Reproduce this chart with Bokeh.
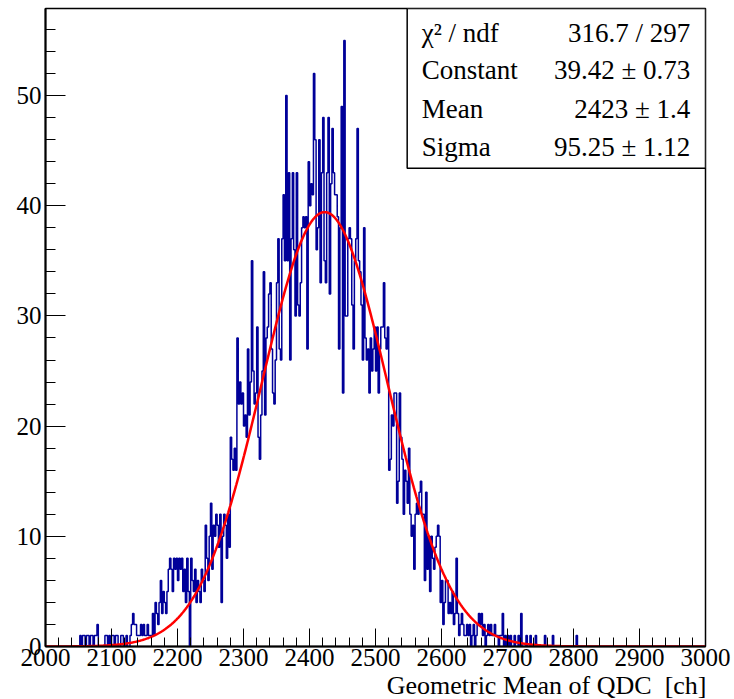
import numpy as np
from bokeh.plotting import figure
from bokeh.models import Range1d, FixedTicker, Label, BoxAnnotation, Title
from bokeh.embed import file_html
from bokeh.resources import INLINE

# ---------------- data ----------------
bin_low = 2000
bin_width = 2
counts = [
    0, 0, 0, 0, 0, 0, 0, 0, 0, 0,        # 2000
    0, 0, 0, 0, 0, 0, 0, 0, 0, 0,        # 2020
    0, 0, 0, 0, 0, 0, 1, 0, 1, 1,        # 2040
    0, 1, 1, 0, 1, 1, 0, 1, 1, 2,        # 2060
    0, 0, 0, 0, 0, 1, 1, 0, 1, 0,        # 2080
    1, 1, 0, 1, 1, 0, 0, 1, 1, 0,        # 2100
    0, 1, 0, 0, 1, 2, 3, 2, 2, 1,        # 2120
    1, 1, 2, 1, 2, 1, 1, 2, 1, 1,        # 2140
    1, 3, 1, 4, 3, 2, 4, 6, 3, 5,        # 2160
    4, 3, 5, 7, 8, 7, 5, 8, 7, 8,        # 2180
    6, 8, 7, 8, 5, 7, 4, 8, 5, 0,        # 2200
    8, 6, 5, 7, 4, 6, 5, 4, 7, 6,        # 2220
    5, 11, 8, 6, 10, 13, 7, 11, 10, 12,  # 2240
    11, 9, 12, 4, 10, 12, 11, 8, 12, 9,  # 2260
    19, 17, 16, 18, 16, 28, 22, 24, 22, 23,  # 2280
    20, 21, 19, 27, 21, 24, 35, 25, 22, 23,  # 2300
    29, 19, 17, 21, 25, 34, 21, 28, 29, 32,  # 2320
    33, 27, 23, 22, 26, 33, 37, 27, 26, 37,  # 2340
    41, 35, 50, 35, 43, 26, 37, 43, 36, 30,  # 2360
    43, 31, 30, 33, 38, 39, 38, 39, 27, 44,  # 2380
    40, 42, 41, 52, 46, 36, 38, 46, 33, 43,  # 2400
    48, 35, 33, 43, 48, 32, 42, 47, 43, 41,  # 2420
    41, 39, 27, 38, 49, 23, 55, 30, 30, 37,  # 2440
    38, 37, 31, 27, 35, 37, 47, 35, 34, 31,  # 2460
    26, 38, 28, 26, 27, 23, 28, 25, 27, 29,  # 2480
    25, 29, 23, 27, 29, 29, 33, 28, 27, 29,  # 2500
    16, 17, 21, 20, 23, 23, 13, 15, 23, 19,  # 2520
    17, 12, 16, 15, 13, 18, 12, 10, 11, 7,   # 2540
    12, 13, 12, 14, 15, 12, 12, 6, 14, 7,    # 2560
    10, 5, 10, 8, 7, 9, 10, 11, 10, 4,       # 2580
    6, 2, 4, 6, 6, 3, 4, 3, 5, 2,            # 2600
    3, 8, 3, 1, 2, 3, 2, 1, 1, 2,            # 2620
    1, 2, 0, 1, 2, 0, 1, 2, 3, 2,            # 2640
    3, 1, 2, 0, 1, 2, 1, 2, 1, 1,            # 2660
    2, 1, 1, 0, 1, 1, 3, 0, 1, 0,            # 2680
    1, 0, 1, 0, 0, 1, 0, 0, 1, 0,            # 2700
    3, 0, 0, 0, 1, 0, 0, 1, 0, 0,            # 2720
    0, 1, 0, 0, 0, 0, 0, 0, 1, 0,            # 2740
    0, 0, 0, 0, 1, 0, 0, 0, 0, 0,            # 2760
    0, 0, 0, 0, 0, 0, 0, 0, 0, 0,            # 2780
    0, 0, 1, 0, 0, 0, 0, 0, 0, 0,            # 2800
    0, 0, 0, 0, 0, 0, 0, 0, 0, 0,            # 2820
    0, 0, 0, 0, 0, 0, 0, 0, 0, 0,            # 2840
    0, 0, 0, 0, 0, 0, 0, 0, 0, 0,            # 2860
    0, 0, 0, 0, 0, 0, 0, 0, 0, 0,            # 2880
    0, 0, 0, 0, 0, 0, 0, 0, 0, 0,            # 2900
    0, 0, 0, 0, 0, 0, 0, 0, 0, 0,            # 2920
    0, 0, 0, 0, 0, 0, 0, 0, 0, 0,            # 2940
    0, 0, 0, 0, 0, 0, 0, 0, 0, 0,            # 2960
    0, 0, 0, 0, 0, 0, 0, 0, 0, 0,            # 2980
]

fit_constant = 39.42
fit_mean = 2423.0
fit_sigma = 95.25

stats_names = ["χ² / ndf", "Constant", "Mean", "Sigma"]
stats_values = ["316.7 / 297", "39.42 ± 0.73", "2423 ± 1.4", "95.25 ± 1.12"]

x_ticks = list(range(2000, 3001, 100))
x_minor = list(range(2000, 3001, 20))
y_ticks = list(range(0, 51, 10))
y_minor = list(range(0, 58, 2))
x_title = "Geometric Mean of QDC\u00a0 [ch]"

# ---------------- figure ----------------
FONT = "Liberation Serif"
X0, X1 = 2000, 3000
Y0, Y1 = 0, 57.9

p = figure(width=734, height=699, x_range=Range1d(X0, X1), y_range=Range1d(Y0, Y1),
           output_backend="svg", toolbar_location=None,
           min_border_left=45, min_border_right=29, min_border_top=8, min_border_bottom=0)
p.background_fill_color = "white"
p.border_fill_color = "white"
p.grid.visible = False
p.outline_line_color = "black"
p.outline_line_width = 1.5

p.xaxis.ticker = FixedTicker(ticks=x_ticks, minor_ticks=x_minor)
p.yaxis.ticker = FixedTicker(ticks=y_ticks, minor_ticks=y_minor)
for ax, maj, mnr, so in ((p.xaxis[0], 18, 9, 2), (p.yaxis[0], 20, 10, 4)):
    ax.axis_line_color = "black"
    ax.axis_line_width = 2
    ax.major_tick_in = maj
    ax.major_tick_out = 0
    ax.minor_tick_in = mnr
    ax.minor_tick_out = 0
    ax.major_tick_line_color = "black"
    ax.minor_tick_line_color = "black"
    ax.major_label_text_font = FONT
    ax.major_label_text_font_size = "25px"
    ax.major_label_text_color = "black"
    ax.major_label_standoff = so

# histogram
edges = bin_low + bin_width * np.arange(len(counts) + 1)
step_y = list(counts) + [counts[-1]]
p.step(x=edges, y=step_y, mode="after", line_color="#000099", line_width=1.5)

# fit function
xs = np.linspace(X0, X1, 1001)
ys = fit_constant * np.exp(-0.5 * ((xs - fit_mean) / fit_sigma) ** 2)
p.line(xs, ys, line_color="#ff0000", line_width=2.5)

# stats box
box = BoxAnnotation(left=2548, right=X1, bottom=43.4, top=Y1,
                    fill_color="white", fill_alpha=1.0,
                    line_color="black", line_width=1.5, line_alpha=1.0)
p.add_layout(box)
row_y = [55.7, 52.3, 48.8, 45.3]
for name, val, yy in zip(stats_names, stats_values, row_y):
    p.add_layout(Label(x=2570, y=yy, text=name, text_align="left", text_baseline="middle",
                       text_font=FONT, text_font_size="27px", text_color="black"))
    p.add_layout(Label(x=2977, y=yy, text=val, text_align="right", text_baseline="middle",
                       text_font=FONT, text_font_size="27px", text_color="black"))

# axis title, right-aligned under the axis
p.add_layout(Title(text=x_title, align="right", text_font=FONT, text_font_size="26px",
                   text_font_style="normal", text_color="black",
                   standoff=0, offset=-1), "below")

open("out.html", "w").write(file_html(p, INLINE))
